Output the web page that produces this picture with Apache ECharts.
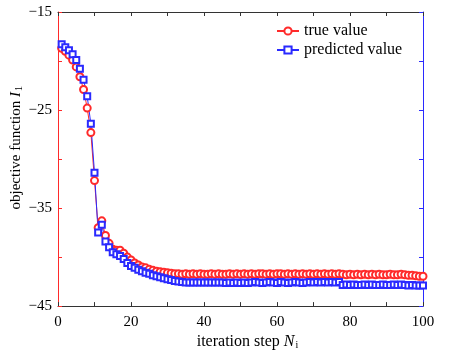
<!DOCTYPE html>
<html>
<head>
<meta charset="utf-8">
<script src="https://cdn.jsdelivr.net/npm/echarts@6/dist/echarts.min.js"></script>
<style>html,body{margin:0;padding:0;background:#fff}#c{width:464px;height:355px}</style>
</head>
<body>
<div id="c"></div>
<script>
const steps = Array.from({length: 100}, (_, i) => i + 1);
const trueValue = [
 -18.7,-19.0,-19.4,-19.9,-20.6,-21.6,-22.9,-24.8,-27.3,-32.2,
 -37.0,-36.3,-37.8,-38.6,-39.2,-39.3,-39.3,-39.6,-40.0,-40.3,
 -40.6,-40.8,-41.0,-41.1,-41.25,-41.35,-41.45,-41.5,-41.55,-41.6,
 -41.65,-41.7,-41.7,-41.75,-41.7,-41.75,-41.7,-41.75,-41.7,-41.75,
 -41.75,-41.7,-41.75,-41.7,-41.75,-41.75,-41.7,-41.75,-41.7,-41.75,
 -41.7,-41.75,-41.7,-41.75,-41.7,-41.7,-41.75,-41.7,-41.75,-41.7,
 -41.7,-41.75,-41.7,-41.75,-41.7,-41.75,-41.7,-41.75,-41.7,-41.75,
 -41.7,-41.75,-41.7,-41.75,-41.7,-41.75,-41.7,-41.75,-41.8,-41.75,
 -41.8,-41.75,-41.8,-41.75,-41.8,-41.75,-41.8,-41.75,-41.8,-41.8,
 -41.75,-41.8,-41.8,-41.75,-41.8,-41.85,-41.85,-41.9,-41.95,-41.95
];
const predictedValue = [
 -18.3,-18.6,-18.9,-19.3,-19.9,-20.8,-21.9,-23.6,-26.4,-31.4,
 -37.5,-36.7,-38.4,-39.0,-39.5,-39.7,-39.9,-40.2,-40.6,-40.9,
 -41.1,-41.3,-41.45,-41.6,-41.7,-41.85,-41.95,-42.05,-42.15,-42.25,
 -42.35,-42.45,-42.5,-42.55,-42.6,-42.6,-42.6,-42.6,-42.6,-42.6,
 -42.6,-42.6,-42.6,-42.6,-42.6,-42.65,-42.6,-42.65,-42.6,-42.65,
 -42.6,-42.65,-42.6,-42.55,-42.6,-42.65,-42.6,-42.55,-42.6,-42.65,
 -42.55,-42.6,-42.65,-42.6,-42.55,-42.6,-42.65,-42.6,-42.55,-42.6,
 -42.55,-42.6,-42.55,-42.6,-42.55,-42.6,-42.55,-42.85,-42.8,-42.85,
 -42.8,-42.85,-42.85,-42.8,-42.85,-42.8,-42.85,-42.85,-42.8,-42.85,
 -42.85,-42.8,-42.85,-42.8,-42.85,-42.9,-42.85,-42.9,-42.9,-42.9
];
const xTickLabels = [0, 20, 40, 60, 80, 100];
const yTickLabels = [-45, -35, -25, -15];

const FONT = "'Times New Roman', 'Liberation Serif', Times, serif";
const RED = '#ff2a2a';
const BLUE = '#2a2aff';
const DARK = '#333';

const chart = echarts.init(document.getElementById('c'), null, {renderer: 'canvas'});
const fmtY = v => yTickLabels.includes(Math.round(v)) ? String(Math.round(v)).replace('-', '\u2212') : '';
const fmtX = v => xTickLabels.includes(Math.round(v)) ? String(Math.round(v)) : '';

chart.setOption({
  animation: false,
  backgroundColor: '#fff',
  grid: {left: 58, right: 41, top: 12, bottom: 46, containLabel: false},
  legend: {
    left: 271, top: 18, orient: 'vertical', itemGap: 3,
    itemWidth: 22, itemHeight: 9,
    textStyle: {fontFamily: FONT, fontSize: 16, color: '#000'},
    data: ['true value', 'predicted value']
  },
  xAxis: [{
    type: 'value', min: 0, max: 100, interval: 10, position: 'bottom',
    name: 'iteration step {i|N}{s|i}', nameLocation: 'middle', nameGap: 26,
    nameTextStyle: {fontFamily: FONT, fontSize: 16, color: '#000', padding: [0, 0, 0, 14],
      rich: {i: {fontFamily: FONT, fontSize: 16, fontStyle: 'italic', color: '#000'},
             s: {fontFamily: FONT, fontSize: 10, color: '#000', verticalAlign: 'bottom', padding: [6,0,0,1]}}},
    axisLine: {show: true, onZero: false, lineStyle: {color: DARK, width: 1}},
    axisTick: {show: true, inside: true, length: 4, lineStyle: {color: DARK}},
    axisLabel: {fontFamily: FONT, fontSize: 15, color: '#000', margin: 8, formatter: fmtX, showMinLabel: true, showMaxLabel: true},
    splitLine: {show: false}
  }, {
    type: 'value', min: 0, max: 100, interval: 10, position: 'top',
    axisLine: {show: true, onZero: false, lineStyle: {color: DARK, width: 1}},
    axisTick: {show: true, inside: true, length: 4, lineStyle: {color: DARK}},
    axisLabel: {show: false}, splitLine: {show: false}
  }],
  yAxis: [{
    type: 'value', min: -45, max: -15, interval: 5, position: 'left',
    axisLine: {show: true, onZero: false, lineStyle: {color: RED, width: 1}},
    axisTick: {show: true, inside: true, length: 4, lineStyle: {color: RED}},
    axisLabel: {fontFamily: FONT, fontSize: 15, color: '#000', margin: 6, formatter: fmtY, showMinLabel: true, showMaxLabel: true},
    splitLine: {show: false}
  }, {
    type: 'value', min: -45, max: -15, interval: 5, position: 'right',
    axisLine: {show: true, onZero: false, lineStyle: {color: BLUE, width: 1}},
    axisTick: {show: true, inside: true, length: 4, lineStyle: {color: BLUE}},
    axisLabel: {show: false}, splitLine: {show: false}
  }],
  graphic: [{
    type: 'text', left: 9, top: 86, rotation: Math.PI / 2,
    style: {
      text: 'objective function {i|I}{s|1}',
      font: '15px ' + FONT, fill: '#000',
      rich: {i: {fontFamily: FONT, fontSize: 15, fontStyle: 'italic', fill: '#000'},
             s: {fontFamily: FONT, fontSize: 10, fill: '#000', verticalAlign: 'bottom', padding: [6,0,0,1]}}
    }
  }],
  series: [{
    name: 'true value', type: 'line', xAxisIndex: 0, yAxisIndex: 0,
    data: steps.map((s, i) => [s, trueValue[i]]),
    symbol: 'emptyCircle', symbolSize: 7, showAllSymbol: true,
    lineStyle: {color: RED, width: 1}, itemStyle: {color: RED, borderColor: RED, borderWidth: 1}
  }, {
    name: 'predicted value', type: 'line', xAxisIndex: 0, yAxisIndex: 0,
    data: steps.map((s, i) => [s, predictedValue[i]]),
    symbol: 'emptyRect', symbolSize: 6, showAllSymbol: true,
    lineStyle: {color: BLUE, width: 1}, itemStyle: {color: BLUE, borderColor: BLUE, borderWidth: 1}
  }]
});
</script>
</body>
</html>
